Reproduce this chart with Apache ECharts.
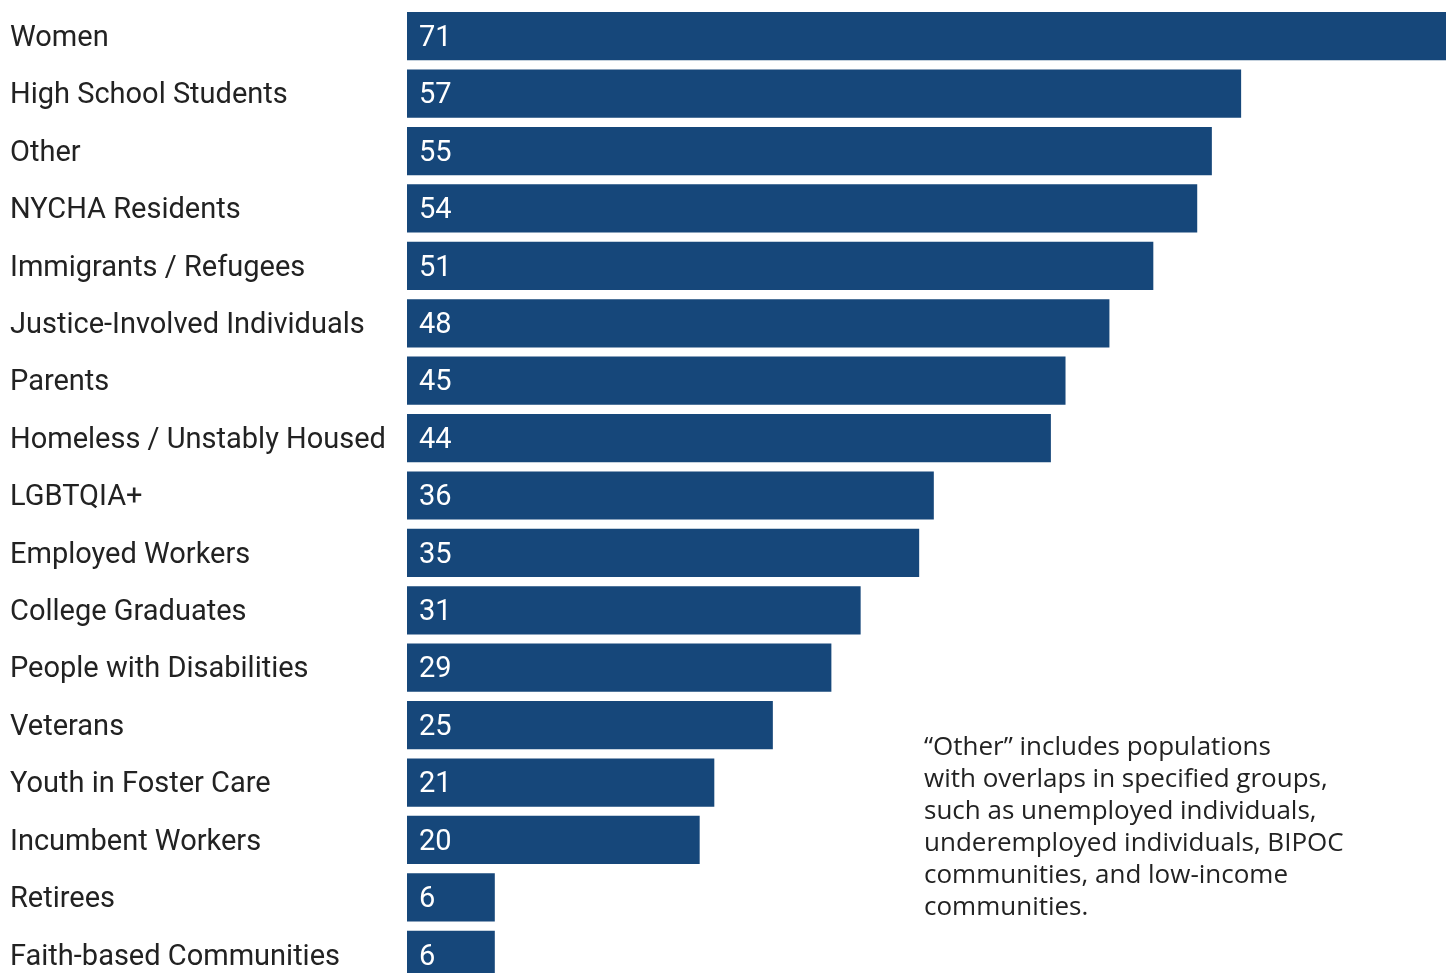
<!DOCTYPE html>
<html><head><meta charset="utf-8">
<script src="https://cdn.jsdelivr.net/npm/echarts@6/dist/echarts.min.js"></script>
<style>html,body{margin:0;padding:0;background:#fff;}#c{width:1452px;height:973px;}</style>
</head><body><div id="c"></div>
<script>
const categories = ["Women","High School Students","Other","NYCHA Residents","Immigrants / Refugees","Justice-Involved Individuals","Parents","Homeless / Unstably Housed","LGBTQIA+","Employed Workers","College Graduates","People with Disabilities","Veterans","Youth in Foster Care","Incumbent Workers","Retirees","Faith-based Communities"];
const values = [71,57,55,54,51,48,45,44,36,35,31,29,25,21,20,6,6];
const note = "\u201cOther\u201d includes populations\nwith overlaps in specified groups,\nsuch as unemployed individuals,\nunderemployed individuals, BIPOC\ncommunities, and low-income\ncommunities.";

const chart = echarts.init(document.getElementById('c'));
chart.setOption({
  animation:false,
  grid:{left:407, right:6, top:7.5, height:976, containLabel:false, outerBoundsMode:'none'},
  xAxis:{type:'value', min:0, max:71, show:false},
  yAxis:{type:'category', data:categories, inverse:true,
    axisLine:{show:false}, axisTick:{show:false},
    axisLabel:{align:'left', margin:397, formatter:v => '{a|' + v + '}',
      rich:{a:{fontFamily:'Roboto', fontSize:29, color:'#222', padding:[5,0,0,0]}}}},
  series:[{type:'bar', data:values, barCategoryGap:'16%',
    itemStyle:{color:'#16477A'},
    label:{show:true, position:'insideLeft', distance:12, offset:[0,2.5], color:'#fff', fontFamily:'Roboto', fontSize:29}}],
  graphic:[{type:'text', left:924, top:732,
    style:{text:note, font:'26px "Open Sans"', fill:'#222', lineHeight:32}}]
});
</script></body></html>
